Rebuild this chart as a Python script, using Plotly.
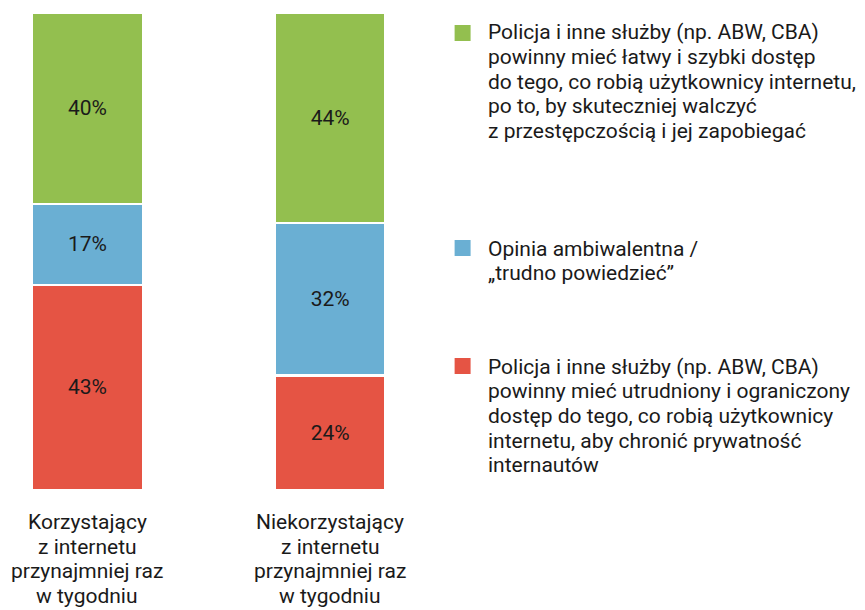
import plotly.graph_objects as go

category_lines = [
    ["Korzystający", "z internetu", "przynajmniej raz", "w tygodniu"],
    ["Niekorzystający", "z internetu", "przynajmniej raz", "w tygodniu"],
]
series_lines = [
    ["Policja i inne służby (np. ABW, CBA)", "powinny mieć utrudniony i ograniczony",
     "dostęp do tego, co robią użytkownicy", "internetu, aby chronić prywatność",
     "internautów"],
    ["Opinia ambiwalentna /", "„trudno powiedzieć”"],
    ["Policja i inne służby (np. ABW, CBA)", "powinny mieć łatwy i szybki dostęp",
     "do tego, co robią użytkownicy internetu,", "po to, by skuteczniej walczyć",
     "z przestępczością i jej zapobiegać"],
]
red_values = [43, 24]
blue_values = [17, 32]
green_values = [40, 44]
colors = ["#e55444", "#6aafd3", "#93bf4f"]

values = [red_values, blue_values, green_values]
TEXT = "#1a1a1a"
FS = 21

# figure geometry (page is offset by the 8px body margin)
FIG_W, FIG_H = 857, 602
PLOT_W = 565.5
TOP, BOTTOM = 5, 482
BAR_C0, SLOT = 79.5, 243

def px_x(p):
    return p / PLOT_W

def px_y(p):
    return (BOTTOM - p) / (BOTTOM - TOP)

fig = go.Figure()
for lines, vals, col in zip(series_lines, values, colors):
    fig.add_trace(go.Bar(
        x=[0, 1], y=vals, name=" ".join(lines),
        marker=dict(color=col, line=dict(color="white", width=2.5)),
        width=111 / SLOT,
        text=[f"{v}%" for v in vals],
        textposition="inside", insidetextanchor="middle", textangle=0,
        textfont=dict(family="Roboto", size=FS, color=TEXT),
        showlegend=False,
    ))

# category labels, one annotation per line (tight line spacing)
for ci, lines in enumerate(category_lines):
    for li, line in enumerate(lines):
        base = 521 + li * 24.7
        fig.add_annotation(
            text=line, xref="x", yref="paper", x=ci, y=px_y(base - 0.34 * FS),
            xanchor="center", yanchor="middle", showarrow=False,
            font=dict(family="Roboto", size=FS, color=TEXT),
        )

# legend: squares + text lines (top to bottom: green, blue, red)
legend_rows = [(2, 17, 31.5), (1, 232, 247.7), (0, 350, 366)]
for idx, sq_top, base0 in legend_rows:
    fig.add_shape(type="rect", xref="paper", yref="paper",
                  x0=px_x(447), x1=px_x(463), y0=px_y(sq_top + 16), y1=px_y(sq_top),
                  fillcolor=colors[idx], line=dict(width=0))
    for li, line in enumerate(series_lines[idx]):
        base = base0 + li * 24.6
        fig.add_annotation(
            text=line, xref="paper", yref="paper",
            x=px_x(478), y=px_y(base - 0.34 * FS), xanchor="left", yanchor="middle",
            align="left", showarrow=False,
            font=dict(family="Roboto", size=FS, color=TEXT),
        )

fig.update_layout(
    barmode="stack",
    width=FIG_W, height=FIG_H,
    margin=dict(l=0, r=FIG_W - PLOT_W, t=TOP, b=FIG_H - BOTTOM, pad=0),
    plot_bgcolor="white", paper_bgcolor="white",
    font=dict(family="Roboto", size=FS, color=TEXT),
    xaxis=dict(range=[-BAR_C0 / SLOT, (PLOT_W - BAR_C0) / SLOT],
               showticklabels=False, showgrid=False, zeroline=False,
               showline=False, ticks=""),
    yaxis=dict(range=[0, 100], visible=False),
)
fig.write_html("out.html")
